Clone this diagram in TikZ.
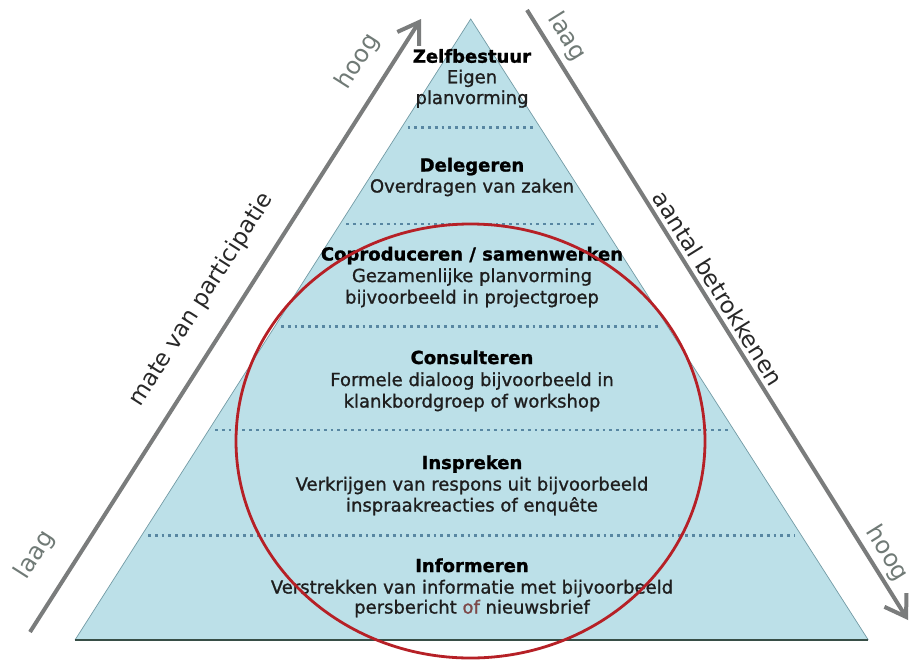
\documentclass[tikz,border=0pt]{standalone}
\usepackage{fontspec}
\setmainfont{DejaVu Sans}
\newfontfamily\bodyfont[FakeBold=1.1]{DejaVu Sans}
\newfontfamily\titlefont[UprightFont={* Bold},FakeBold=1.2]{DejaVu Sans}
\usetikzlibrary{arrows.meta,calc}
\definecolor{pyrfill}{RGB}{188,224,232}
\definecolor{pyredge}{RGB}{115,155,165}
\definecolor{basecol}{RGB}{55,78,70}
\definecolor{dotcol}{RGB}{88,135,162}
\definecolor{ringred}{RGB}{182,32,38}
\definecolor{arrowgray}{RGB}{122,124,124}
\definecolor{sidetext}{RGB}{40,40,40}
\definecolor{lvltext}{RGB}{112,122,118}
\definecolor{bodycol}{RGB}{30,30,30}
\definecolor{ofcol}{RGB}{125,72,72}
\begin{document}
\begin{tikzpicture}[x=1pt,y=1pt,
  title/.style={font=\titlefont\fontsize{18}{21}\selectfont, text=black, anchor=base, inner sep=0pt},
  body/.style={font=\bodyfont\fontsize{18}{21}\selectfont, text=bodycol, anchor=base, inner sep=0pt},
  sepline/.style={dotcol, line width=2.8pt, dash pattern=on 2.8pt off 4pt},
  axis/.style={arrowgray, line width=4pt, -{Straight Barb[length=20pt,width=26pt]}},
  axislabel/.style={font=\fontsize{23}{27}\selectfont, text=sidetext, inner sep=0pt},
  endlabel/.style={font=\fontsize{24}{28}\selectfont, text=lvltext, inner sep=0pt},
]
\useasboundingbox (0,0) rectangle (912,-662);
\fill[white] (0,0) rectangle (912,-662);
% pyramid
\coordinate (apex) at (470.7,-19);
\coordinate (bl) at (75,-640);
\coordinate (br) at (868.3,-640);
\fill[pyrfill] (bl) -- (apex) -- (br) -- cycle;
\draw[pyredge, line width=0.7pt] (bl) -- (apex) -- (br);
\draw[basecol, line width=1.6pt] (bl) -- (br);
% separators
\draw[sepline] (407.5,-127.7) -- (534.3,-127.7);
\draw[sepline] (346,-224) -- (596,-224);
\draw[sepline] (281,-326.5) -- (661.5,-326.5);
\draw[sepline] (215,-430) -- (727.7,-430);
\draw[sepline] (148,-535.5) -- (795.3,-535.5);
% texts
\node[title] (t1) at (472,-62.7) {Zelfbestuur};
\node[body] (b1a) at (472,-83.3) {Eigen};
\node[body] (b1b) at (472,-104) {planvorming};
\node[title] (t2) at (472,-171.5) {Delegeren};
\node[body] (b2a) at (472,-192.5) {Overdragen van zaken};
\node[title] (t3) at (472,-260.5) {Coproduceren / samenwerken};
\node[body] (b3a) at (472,-282) {Gezamenlijke planvorming};
\node[body] (b3b) at (472,-303.5) {bijvoorbeeld in projectgroep};
\node[title] (t4) at (472,-364) {Consulteren};
\node[body] (b4a) at (472,-386) {Formele dialoog bijvoorbeeld in};
\node[body] (b4b) at (472,-407.5) {klankbordgroep of workshop};
\node[title] (t5) at (472,-469) {Inspreken};
\node[body] (b5a) at (472,-490.5) {Verkrijgen van respons uit bijvoorbeeld};
\node[body] (b5b) at (472,-511.5) {inspraakreacties of enquête};
\node[title] (t6) at (472,-572) {Informeren};
\node[body] (b6a) at (472,-593.5) {Verstrekken van informatie met bijvoorbeeld};
\node[body] (b6b) at (472,-613.5) {persbericht \textcolor{ofcol}{of} nieuwsbrief};
% ring
\draw[ringred, line width=2.8pt] (470.5,-441) ellipse [x radius=234.5, y radius=217];
% axes
\coordinate (lA) at (30,-632);
\coordinate (lB) at (421,-19);
\coordinate (rA) at (527,-10);
\coordinate (rB) at (908,-620);
\draw[axis] (lA) -- (lB);
\draw[axis] (rA) -- (rB);
\node[endlabel, rotate=57.5] (lowL) at ($($(lA)!.093!(lB)$)!37pt!90:(lB)$) {laag};
\node[axislabel, rotate=57.5] (mate) at ($($(lA)!.512!(lB)$)!34pt!90:(lB)$) {mate van participatie};
\node[endlabel, rotate=57.5] (highL) at ($($(lA)!.904!(lB)$)!30pt!90:(lB)$) {hoog};
\node[endlabel, rotate=-58] (lowR) at ($($(rA)!.061!(rB)$)!19.5pt!90:(rB)$) {laag};
\node[axislabel, rotate=-58] (aantal) at ($($(rA)!.469!(rB)$)!15pt!90:(rB)$) {aantal betrokkenen};
\node[endlabel, rotate=-58] (highR) at ($($(rA)!.906!(rB)$)!17pt!90:(rB)$) {hoog};
\end{tikzpicture}
\end{document}
